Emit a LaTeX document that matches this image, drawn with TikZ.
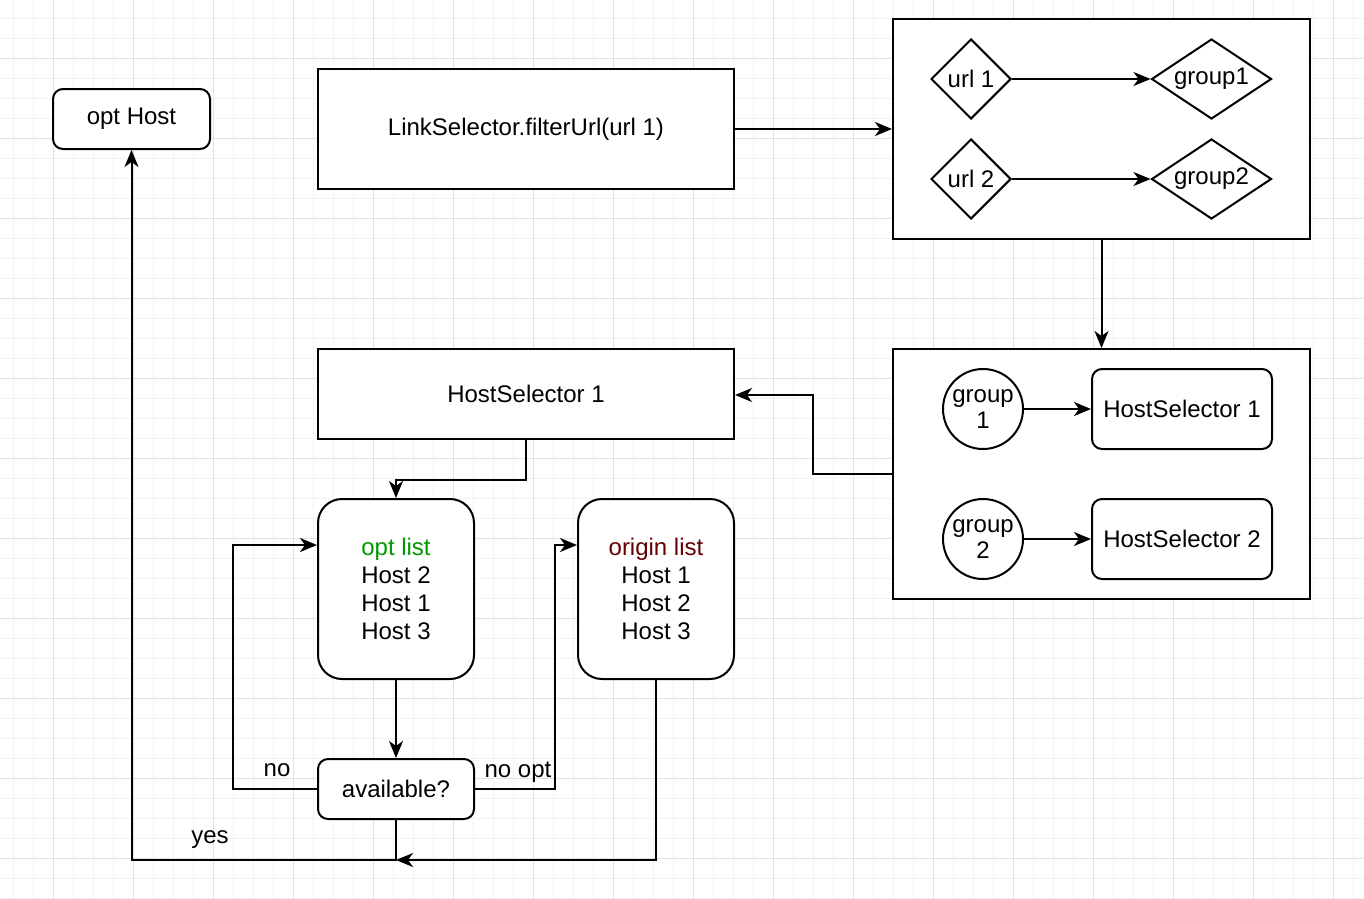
\documentclass[tikz,border=0pt]{standalone}
\usepackage{fontspec}
\setmainfont{Liberation Sans}
\usetikzlibrary{
  arrows.meta,
  positioning,
  shapes.geometric,
}
\definecolor{gridminor}{RGB}{243,243,243}
\definecolor{gridmajor}{RGB}{226,226,226}
\definecolor{optgreen}{RGB}{0,153,0}
\definecolor{origred}{RGB}{102,0,0}
\tikzset{
  basenode/.style={
    draw=black, line width=2pt, fill=white, inner sep=0pt,
    font=\fontsize{24}{26}\selectfont, align=center
  },
  plainbox/.style={basenode, rectangle},
  roundbox/.style={basenode, rectangle, rounded corners=10pt},
  listbox/.style={basenode, rectangle, rounded corners=24pt,
    minimum width=156pt, minimum height=180pt,
    font=\fontsize{24}{28}\selectfont},
  urlnode/.style={basenode, diamond, minimum width=80pt, minimum height=80pt},
  groupnode/.style={basenode, diamond, aspect=1.5, minimum width=120pt, minimum height=80pt},
  grpcircle/.style={basenode, circle, minimum size=80pt},
  edgelabel/.style={font=\fontsize{24}{26}\selectfont, inner sep=0pt},
  arr/.style={-{Stealth[length=17pt, width=14pt, inset=5pt]}, line width=2pt},
}

\begin{document}
\begin{tikzpicture}[x=1pt, y=-1pt]

  % ── Canvas and grid ──
  \fill[white] (0,0) rectangle (1364,898);
  \useasboundingbox (0,0) rectangle (1364,898);
  \foreach \gx in {13,33,...,1353} \draw[gridminor, line width=1pt] (\gx,0) -- (\gx,898);
  \foreach \gy in {18,38,...,898} \draw[gridminor, line width=1pt] (0,\gy) -- (1364,\gy);
  \foreach \gx in {53,133,...,1333} \draw[gridmajor, line width=1pt] (\gx,0) -- (\gx,898);
  \foreach \gy in {58,138,...,858} \draw[gridmajor, line width=1pt] (0,\gy) -- (1364,\gy);

  % ── Link selection ──
  \node[roundbox, minimum width=157pt, minimum height=60pt] (optHost) at (131.5,119) {opt Host};
  \node[plainbox, minimum width=416pt, minimum height=120pt] (linkSel) at (526,129) {LinkSelector.filterUrl(url 1)};

  % ── Url grouping ──
  \node[plainbox, minimum width=417pt, minimum height=220pt] (urlBox) at (1101.5,129) {};
  \node[urlnode] (url1) at (971,79) {url 1};
  \node[urlnode] (url2) at (971,179) {url 2};
  \node[groupnode] (grp1) at (1211.5,79) {group1};
  \node[groupnode] (grp2) at (1211.5,179) {group2};

  % ── Host selectors ──
  \node[plainbox, minimum width=417pt, minimum height=250pt] (hsBox) at (1101.5,474) {};
  \node[grpcircle] (gc1) at (983,409) {group\\1};
  \node[grpcircle] (gc2) at (983,539) {group\\2};
  \node[roundbox, minimum width=180pt, minimum height=80pt] (hs1) at (1182,409) {HostSelector 1};
  \node[roundbox, minimum width=180pt, minimum height=80pt] (hs2) at (1182,539) {HostSelector 2};

  % ── Selected host lists ──
  \node[plainbox, minimum width=416pt, minimum height=90pt] (hsSel) at (526,394) {HostSelector 1};
  \node[listbox] (optList) at (396,589)
    {\textcolor{optgreen}{opt list}\\Host 2\\Host 1\\Host 3};
  \node[listbox] (origList) at (656,589)
    {\textcolor{origred}{origin list}\\Host 1\\Host 2\\Host 3};
  \node[roundbox, minimum width=156pt, minimum height=60pt] (avail) at (396,789) {available?};

  % ── Connector arrows ──
  \draw[arr] (linkSel.east) -- (urlBox.west);
  \draw[arr] (url1.east) -- (grp1.west);
  \draw[arr] (url2.east) -- (grp2.west);
  \draw[arr] (urlBox.south) -- (hsBox.north);
  \draw[arr] (gc1.east) -- (hs1.west);
  \draw[arr] (gc2.east) -- (hs2.west);
  \draw[arr] (hsBox.west) -- ++(-79,0) |- ([yshift=-1pt]hsSel.east);
  \draw[arr] (hsSel.south) -- ++(0,40) -| (optList.north);
  \draw[arr] (optList.south) -- (avail.north);

  % ── Decision branches ──
  \coordinate (join) at ([yshift=-40pt]avail.south);
  \draw[arr] (avail.west) -- ++(-84,0) |- ([yshift=44pt]optList.west);
  \draw[arr] (avail.east) -- ++(80,0) |- ([yshift=44pt]origList.west);
  \draw[arr] (avail.south) -- (join) -| (optHost.south);
  \draw[arr] (origList.south) |- (join);
  \node[edgelabel] (lblNo) at (277,770) {no};
  \node[edgelabel] (lblNoOpt) at (518,772) {no opt};
  \node[edgelabel] (lblYes) at (210,840) {yes};

\end{tikzpicture}
\end{document}
